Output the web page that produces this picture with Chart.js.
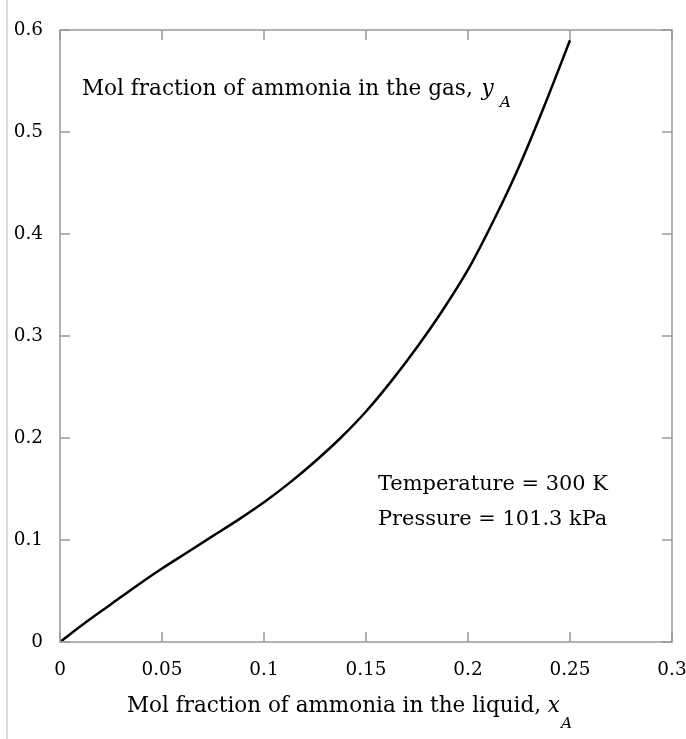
<!DOCTYPE html>
<html><head><meta charset="utf-8">
<script src="https://cdn.jsdelivr.net/npm/chart.js@4/dist/chart.umd.min.js"></script>
<style>html,body{margin:0;padding:0;background:#fff;overflow:hidden}#wrap{width:686px;height:739px;position:relative}</style>
</head><body><div id="wrap"><canvas id="c" width="686" height="739"></canvas></div>
<script>
// Data
const xLiquid = [0, 0.0125, 0.025, 0.0375, 0.05, 0.0625, 0.075, 0.0875, 0.1, 0.1125, 0.125, 0.1375, 0.15, 0.1625, 0.175, 0.1875, 0.2, 0.2125, 0.225, 0.2375, 0.25];
const yGas    = [0, 0.019, 0.037, 0.055, 0.072, 0.088, 0.104, 0.120, 0.137, 0.156, 0.177, 0.200, 0.226, 0.256, 0.289, 0.325, 0.365, 0.413, 0.466, 0.526, 0.590];
const xTicks = [0, 0.05, 0.1, 0.15, 0.2, 0.25, 0.3];
const xTickLabels = ['0', '0.05', '0.1', '0.15', '0.2', '0.25', '0.3'];
const yTicks = [0, 0.1, 0.2, 0.3, 0.4, 0.5, 0.6];
const yTickLabels = ['0', '0.1', '0.2', '0.3', '0.4', '0.5', '0.6'];
const yTitle = 'Mol fraction of ammonia in the gas,';
const xTitle = 'Mol fraction of ammonia in the liquid,';
const noteLines = ['Temperature = 300 K', 'Pressure = 101.3 kPa'];

const FAM = '"DejaVu Serif", "Liberation Serif", serif';
const mctx = document.createElement('canvas').getContext('2d');
function fitSize(text, target, base) {
  mctx.font = base + 'px ' + FAM;
  return base * target / mctx.measureText(text).width;
}
const tickSize = fitSize('0.05', 41, 17);
const titleSize = fitSize(yTitle, 391, 20);
const xTitleSize = fitSize(xTitle, 414, 20);
const noteSize = fitSize(noteLines[0], 230, 18);

const points = xLiquid.map((x, i) => ({x: x, y: yGas[i]}));

const deco = {
  id: 'deco',
  beforeDraw(chart) {
    const c = chart.ctx;
    c.save();
    c.fillStyle = '#fff';
    c.fillRect(0, 0, chart.width, chart.height);
    c.strokeStyle = '#cfcfcf';
    c.lineWidth = 1.5;
    c.beginPath(); c.moveTo(7, 0); c.lineTo(7, chart.height); c.stroke();
    c.restore();
  },
  afterDatasetsDraw(chart) {
    const c = chart.ctx, a = chart.chartArea;
    const xs = chart.scales.x, ys = chart.scales.y;
    c.save();
    c.strokeStyle = '#999';
    c.lineWidth = 1.5;
    c.strokeRect(a.left, a.top, a.right - a.left, a.bottom - a.top);
    c.beginPath();
    const L = 10;
    xTicks.forEach(v => {
      const px = xs.getPixelForValue(v);
      c.moveTo(px, a.bottom); c.lineTo(px, a.bottom - L);
      c.moveTo(px, a.top); c.lineTo(px, a.top + L);
    });
    yTicks.forEach(v => {
      const py = ys.getPixelForValue(v);
      c.moveTo(a.left, py); c.lineTo(a.left + L, py);
      c.moveTo(a.right, py); c.lineTo(a.right - L, py);
    });
    c.stroke();

    c.fillStyle = '#000';
    c.textBaseline = 'alphabetic';
    c.textAlign = 'left';
    // y-axis title inside plot
    c.font = titleSize + 'px ' + FAM;
    let x0 = 82;
    c.fillText(yTitle, x0, 95);
    let w = c.measureText(yTitle + ' ').width;
    c.font = 'italic ' + titleSize + 'px ' + FAM;
    c.fillText('y', x0 + w + 2, 95);
    let wy = c.measureText('y').width;
    c.font = 'italic ' + (titleSize * 0.72) + 'px ' + FAM;
    c.fillText('A', x0 + w + wy + 8, 107);

    // x-axis title
    c.font = xTitleSize + 'px ' + FAM;
    x0 = 127;
    c.fillText(xTitle, x0, 712);
    w = c.measureText(xTitle + ' ').width;
    c.font = 'italic ' + xTitleSize + 'px ' + FAM;
    c.fillText('x', x0 + w, 712);
    wy = c.measureText('x').width;
    c.font = 'italic ' + (xTitleSize * 0.72) + 'px ' + FAM;
    c.fillText('A', x0 + w + wy + 1, 728);

    // notes
    c.font = noteSize + 'px ' + FAM;
    c.fillText(noteLines[0], 378, 490);
    c.fillText(noteLines[1], 378, 525);
    c.restore();
  }
};

new Chart(document.getElementById('c'), {
  type: 'scatter',
  data: {
    datasets: [{
      data: points,
      showLine: true,
      borderColor: '#000',
      borderWidth: 2.5,
      pointRadius: 0,
      fill: false,
      cubicInterpolationMode: 'monotone'
    }]
  },
  options: {
    responsive: false,
    animation: false,
    layout: {padding: {top: 30, right: 14, left: 0, bottom: 0}},
    plugins: {legend: {display: false}, tooltip: {enabled: false}},
    scales: {
      x: {
        type: 'linear', min: 0, max: 0.3,
        afterBuildTicks: s => { s.ticks = xTicks.map(v => ({value: v})); },
        afterFit: s => { s.height = 97; s.paddingLeft = 0; s.paddingRight = 0; },
        grid: {display: false},
        border: {display: false},
        ticks: {
          autoSkip: false, maxRotation: 0, padding: 9,
          color: '#000', font: {family: FAM, size: tickSize},
          callback: (v, i) => xTickLabels[i]
        }
      },
      y: {
        type: 'linear', min: 0, max: 0.6,
        afterBuildTicks: s => { s.ticks = yTicks.map(v => ({value: v})); },
        afterFit: s => { s.width = 60; s.paddingTop = 0; s.paddingBottom = 0; },
        grid: {display: false},
        border: {display: false},
        ticks: {
          autoSkip: false, padding: 9,
          color: '#000', font: {family: FAM, size: tickSize},
          callback: (v, i) => yTickLabels[i]
        }
      }
    }
  },
  plugins: [deco]
});
</script></body></html>
